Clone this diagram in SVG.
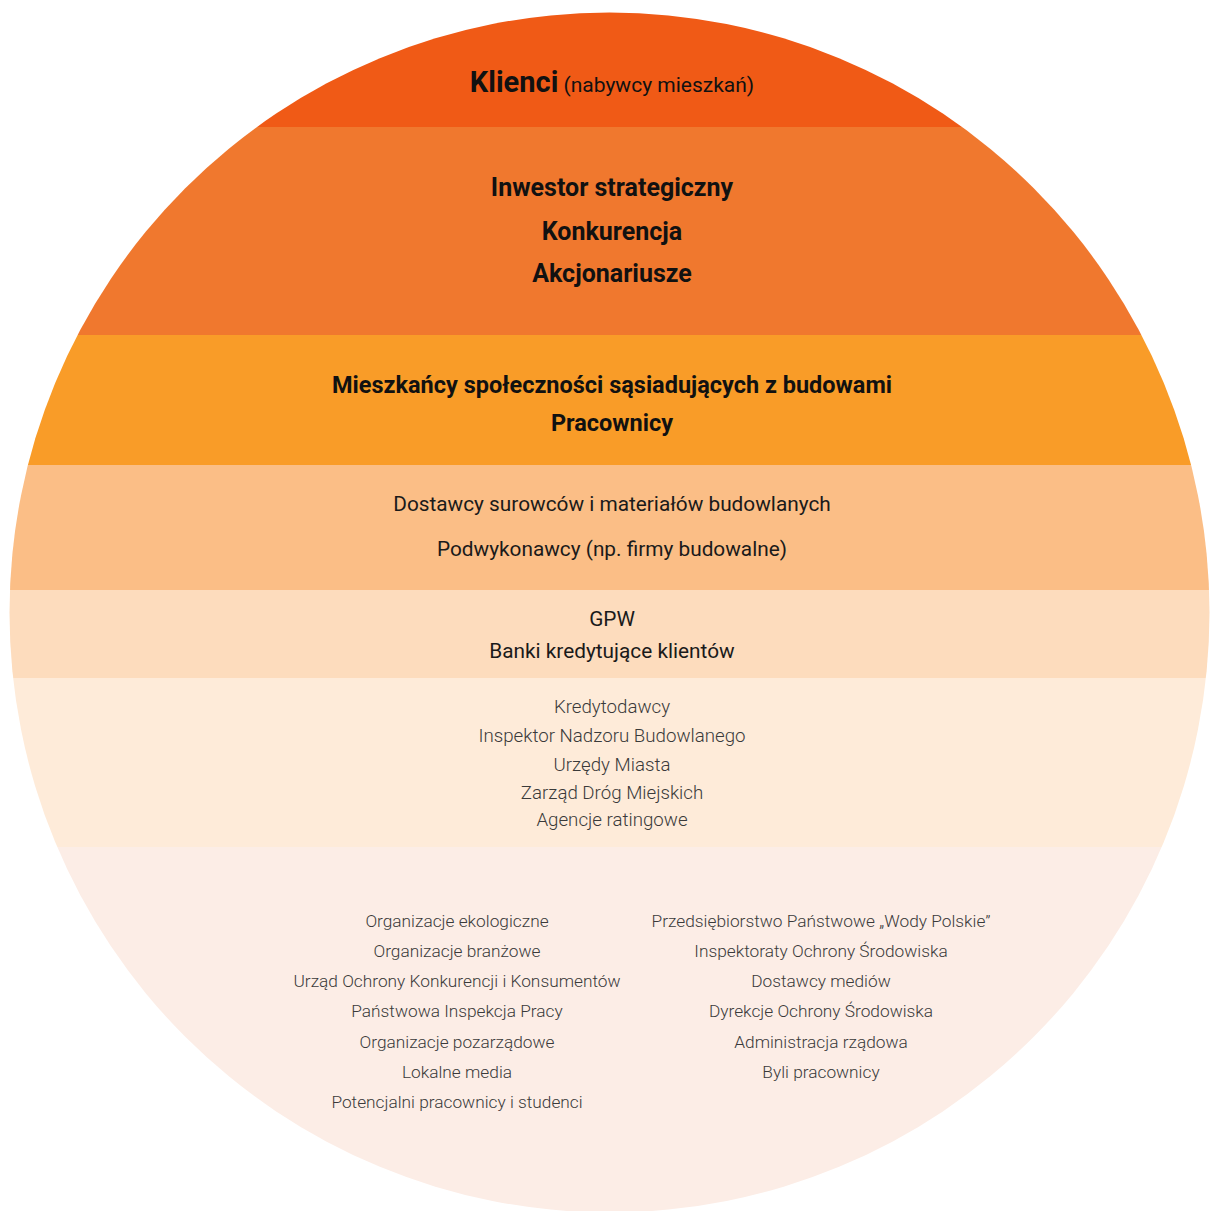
<svg xmlns="http://www.w3.org/2000/svg" width="1210" height="1211" viewBox="0 0 1210 1211">
<style>
text{font-family:Roboto,"Open Sans","Liberation Sans",sans-serif;text-anchor:middle}
.b{font-weight:700;font-size:23.5px;fill:#111}
.b2{font-weight:700;font-size:25px;fill:#111}
.m{font-weight:400;font-size:20.8px;fill:#1a1a1a}
.l{font-weight:300;font-size:18.7px;fill:#3a3a3a}
.s{font-weight:300;font-size:17.3px;fill:#3a3a3a}
</style>
<defs>
<clipPath id="c"><circle cx="609.5" cy="612.5" r="600"/></clipPath>
</defs>
<rect width="1210" height="1211" fill="#fff"/>
<g id="bands" clip-path="url(#c)">
<rect id="band1" x="0" y="0" width="1210" height="127" fill="#F05A16"/>
<rect id="band2" x="0" y="127" width="1210" height="208" fill="#F0782E"/>
<rect id="band3" x="0" y="335" width="1210" height="130" fill="#F99C28"/>
<rect id="band4" x="0" y="465" width="1210" height="125" fill="#FBBE86"/>
<rect id="band5" x="0" y="590" width="1210" height="88" fill="#FDDCBD"/>
<rect id="band6" x="0" y="678" width="1210" height="169" fill="#FEEBD9"/>
<rect id="band7" x="0" y="847" width="1210" height="380" fill="#FCEDE6"/>
</g>
<g id="t1"><text x="612" y="92"><tspan font-weight="700" font-size="29" fill="#111">Klienci</tspan><tspan font-weight="400" font-size="21" fill="#111"> (nabywcy mieszkań)</tspan></text></g>
<g id="t2">
<text class="b2" x="612" y="196">Inwestor strategiczny</text>
<text class="b2" x="612" y="240">Konkurencja</text>
<text class="b2" x="612" y="282">Akcjonariusze</text>
</g>
<g id="t3">
<text class="b" x="612" y="393">Mieszkańcy społeczności sąsiadujących z budowami</text>
<text class="b" x="612" y="431">Pracownicy</text>
</g>
<g id="t4">
<text class="m" x="612" y="511">Dostawcy surowców i materiałów budowlanych</text>
<text class="m" x="612" y="556">Podwykonawcy (np. firmy budowalne)</text>
</g>
<g id="t5">
<text class="m" x="612" y="626" font-size="20">GPW</text>
<text class="m" x="612" y="658" font-size="20">Banki kredytujące klientów</text>
</g>
<g id="t6">
<text class="l" x="612" y="713">Kredytodawcy</text>
<text class="l" x="612" y="742">Inspektor Nadzoru Budowlanego</text>
<text class="l" x="612" y="771">Urzędy Miasta</text>
<text class="l" x="612" y="799">Zarząd Dróg Miejskich</text>
<text class="l" x="612" y="826">Agencje ratingowe</text>
</g>
<g id="t7a">
<text class="s" x="457" y="927">Organizacje ekologiczne</text>
<text class="s" x="457" y="957">Organizacje branżowe</text>
<text class="s" x="457" y="987">Urząd Ochrony Konkurencji i Konsumentów</text>
<text class="s" x="457" y="1017">Państwowa Inspekcja Pracy</text>
<text class="s" x="457" y="1048">Organizacje pozarządowe</text>
<text class="s" x="457" y="1078">Lokalne media</text>
<text class="s" x="457" y="1108">Potencjalni pracownicy i studenci</text>
</g>
<g id="t7b">
<text class="s" x="821" y="927">Przedsiębiorstwo Państwowe „Wody Polskie”</text>
<text class="s" x="821" y="957">Inspektoraty Ochrony Środowiska</text>
<text class="s" x="821" y="987">Dostawcy mediów</text>
<text class="s" x="821" y="1017">Dyrekcje Ochrony Środowiska</text>
<text class="s" x="821" y="1048">Administracja rządowa</text>
<text class="s" x="821" y="1078">Byli pracownicy</text>
</g>
</svg>
